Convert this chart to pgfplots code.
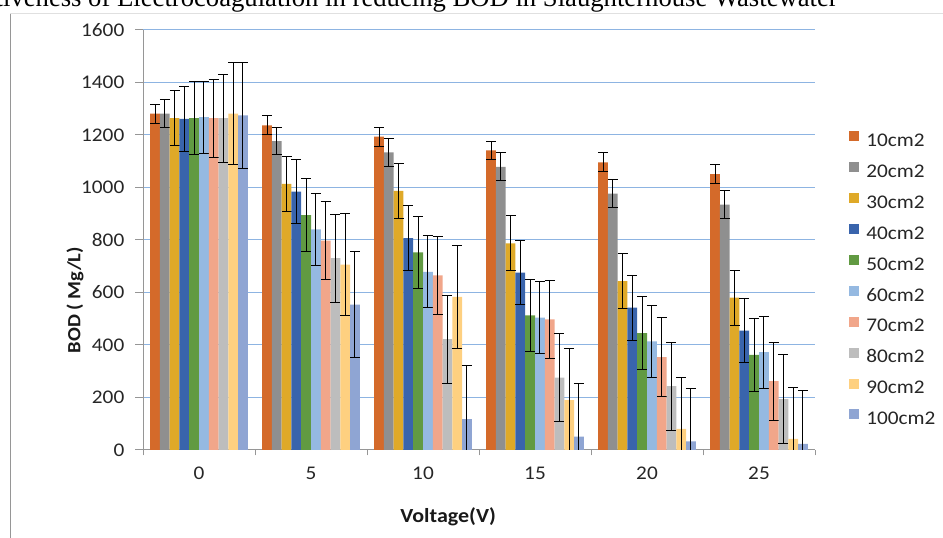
\documentclass[border=0pt]{standalone}
\usepackage{fontspec}
\setmainfont{Carlito}[FakeStretch=1.1]
\newfontfamily\titlefont{Liberation Serif}
\usepackage{pgfplots}
\pgfplotsset{compat=1.18}
\usepackage{pgfplotstable}

\definecolor{c1}{RGB}{212,106,42}
\definecolor{c2}{RGB}{143,143,143}
\definecolor{c3}{RGB}{223,169,40}
\definecolor{c4}{RGB}{57,100,172}
\definecolor{c5}{RGB}{97,154,66}
\definecolor{c6}{RGB}{149,185,225}
\definecolor{c7}{RGB}{241,166,138}
\definecolor{c8}{RGB}{189,189,189}
\definecolor{c9}{RGB}{254,208,128}
\definecolor{c10}{RGB}{143,165,211}
\definecolor{gridblue}{RGB}{141,180,226}
\definecolor{axisgray}{RGB}{150,150,150}

\pgfplotstableread{
x s10  s20  s30  s40  s50  s60  s70  s80  s90  s100 e10 e20 e30 e40 e50 e60 e70 e80 e90 e100
0 1281 1281 1264 1261 1264 1268 1264 1264 1281 1275 36  53  105 123 138 137 149 168 195 202
1 1237 1177 1014 984  895  840  798  731  706  554  36  53  105 123 138 137 149 168 195 202
2 1194 1134 987  807  753  679  665  422  583  118  36  53  105 123 138 137 149 168 195 202
3 1141 1079 787  676  513  504  498  276  190  51   36  53  105 123 138 137 149 168 195 202
4 1096 977  643  542  445  414  354  243  80   33   36  53  105 123 138 137 149 168 195 202
5 1051 935  580  455  362  373  262  194  42   23   36  53  105 123 138 137 149 168 195 202
}\data

\pgfplotsset{sq legend/.style={legend image code/.code={\fill[##1] (0pt,0.5pt) rectangle (7.5pt,8pt);}}}

\newcommand{\ser}[3]{%
  \addplot[fill=#1, draw=none, sq legend,
    error bars/.cd, y dir=both, y explicit]
    table[x=x, y=s#2, y error=e#2] {\data};
  \addlegendentry{#3}}

\begin{document}
\begin{tikzpicture}[x=0.75pt,y=0.75pt]
\useasboundingbox (0,0) rectangle (943,538);
\draw[axisgray] (10,0) -- (10,525);
\draw[black!12] (10,525) -- (943,525);
\node[anchor=base east, font=\titlefont\fontsize{20}{24}\selectfont, inner sep=0pt] at (838,531)
  {Effectiveness of Electrocoagulation in reducing BOD in Slaughterhouse Wastewater};
\begin{axis}[
  at={(107.25pt,66pt)}, anchor=south west,
  scale only axis, width=504pt, height=315pt,
  ybar=0pt, bar width=7.33pt,
  xmin=-0.5, xmax=5.5, ymin=0, ymax=1600,
  axis lines*=left,
  axis line style={draw=axisgray, line width=0.75pt},
  ytick={0,200,...,1600},
  xtick={0,...,5}, xticklabels={0,5,10,15,20,25},
  minor xtick={-0.5,0.5,...,5.5},
  major x tick style={draw=none},
  minor x tick style={draw=axisgray, line width=0.75pt},
  major y tick style={draw=axisgray, line width=0.75pt},
  tick align=outside,
  major tick length=6pt, minor tick length=4pt,
  ymajorgrids,
  major grid style={draw=gridblue, line width=0.75pt},
  /pgf/number format/assume math mode=true,
  /pgf/number format/1000 sep={},
  tick label style={font=\fontsize{14.5}{16}\selectfont, text=black!85},
  yticklabel style={xshift=-4.5pt},
  xticklabel style={yshift=-3pt},
  xlabel={Voltage(V)}, ylabel={BOD ( Mg/L)},
  label style={font=\bfseries\fontsize{15}{18}\selectfont, text=black!90},
  xlabel style={at={(axis description cs:0.454,-0.16)}, anchor=center},
  ylabel style={at={(axis description cs:-0.101,0.357)}, anchor=center, rotate=0, font=\bfseries\fontsize{14}{18}\selectfont},
  error bars/error bar style={black, line width=0.75pt},
  error bars/error mark options={rotate=90, black, mark size=3.75pt, line width=0.75pt},
  legend style={at={(axis description cs:1.0506,0.760)}, anchor=north west,
    draw=none, fill=none, inner sep=0pt, row sep=8.7pt,
    font=\fontsize{14.5}{16}\selectfont, text=black!85,
    nodes={inner sep=0pt, text height=10pt, text depth=3pt},
    /tikz/every odd column/.append style={column sep=5.25pt}},
  legend cell align=left,
]
\ser{c1}{10}{10cm2}
\ser{c2}{20}{20cm2}
\ser{c3}{30}{30cm2}
\ser{c4}{40}{40cm2}
\ser{c5}{50}{50cm2}
\ser{c6}{60}{60cm2}
\ser{c7}{70}{70cm2}
\ser{c8}{80}{80cm2}
\ser{c9}{90}{90cm2}
\ser{c10}{100}{100cm2}
\end{axis}
\end{tikzpicture}
\end{document}
